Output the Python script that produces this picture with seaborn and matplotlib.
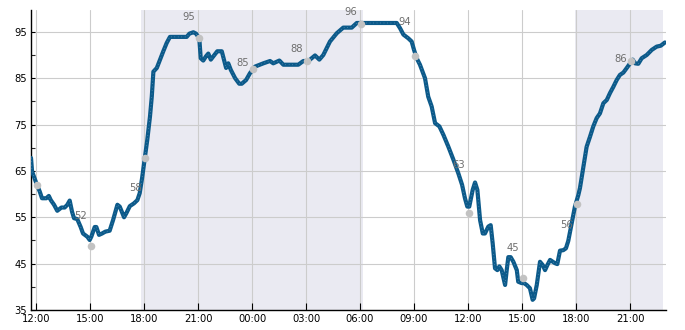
import numpy as np
import pandas as pd
import matplotlib
matplotlib.use("Agg")
import matplotlib.pyplot as plt
import matplotlib.dates as mdates
import seaborn as sns

# ---- data -------------------------------------------------------------
start = pd.Timestamp("2024-05-01 12:00")

hours = [-0.28, -0.22, 0.02, 0.21, 0.33, 0.57, 0.71, 0.82, 1.0, 1.18, 1.41, 1.59, 1.74, 1.87,
         2.0, 2.11, 2.29, 2.48, 2.61, 2.85, 2.98, 3.07, 3.26, 3.35, 3.5, 3.67, 3.85, 4.09,
         4.28, 4.52, 4.65, 4.89, 5.02, 5.21, 5.44, 5.63, 5.76, 5.89, 6.04, 6.18, 6.33, 6.43,
         6.52, 6.71, 6.89, 7.07, 7.26, 7.44, 8.37, 8.52, 8.74, 8.89, 9.07, 9.15, 9.29, 9.44,
         9.57, 9.71, 9.85, 10.07, 10.32, 10.44, 10.56, 10.68, 10.82, 11.06, 11.29, 11.43,
         11.67, 11.89, 12.07, 12.17, 12.63, 13.0, 13.18, 13.52, 13.74, 14.57, 14.85, 15.13,
         15.5, 15.74, 15.96, 16.33, 16.71, 17.07, 17.54, 17.82, 20.04, 20.22, 20.41, 20.68,
         20.87, 21.0, 21.15, 21.33, 21.61, 21.79, 21.98, 22.17, 22.41, 22.63, 22.91, 23.18,
         23.46, 23.67, 23.83, 23.96, 24.07, 24.26, 24.39, 24.52, 24.67, 24.82, 24.94, 25.13,
         25.26, 25.37, 25.5, 25.63, 25.74, 25.87, 26.06, 26.15, 26.24, 26.37, 26.52, 26.71,
         26.79, 26.98, 27.11, 27.26, 27.44, 27.59, 27.67, 27.82, 28.0, 28.15, 28.28, 28.41,
         28.56, 28.71, 28.83, 28.96, 29.11, 29.29, 29.44, 29.57, 29.76, 29.94, 30.13, 30.22,
         30.41, 30.59, 30.78, 30.96, 31.15, 31.33, 31.52, 31.71, 31.89, 32.07, 32.26, 32.44,
         32.63, 32.82, 33.0, 33.15, 33.28, 33.46, 33.65, 33.93, 34.21, 34.48, 34.71, 34.94]

humidity = [67.8, 64.9, 62.3, 60.5, 59.1, 59.1, 59.6, 58.7, 57.7, 56.4, 57.1, 57.1, 57.7, 58.6,
            56.2, 54.8, 54.6, 52.9, 51.5, 50.8, 50.1, 50.8, 52.9, 52.9, 51.2, 51.5, 51.9, 52.1,
            54.4, 57.7, 57.3, 55.0, 55.9, 57.4, 58.0, 58.7, 60.2, 63.4, 67.7, 71.7, 76.7, 81.0,
            86.4, 87.2, 89.0, 90.8, 92.6, 93.9, 93.9, 94.6, 94.9, 94.6, 93.6, 89.3, 88.8, 89.7,
            90.3, 89.0, 89.7, 90.8, 90.8, 89.0, 87.2, 88.2, 86.8, 85.0, 83.8, 83.8,
            84.6, 86.1, 86.9, 87.5, 88.2, 88.7, 88.2, 88.8, 87.9, 87.9, 88.7, 88.7,
            89.9, 89.0, 90.0, 92.9, 94.7, 95.9, 95.9, 96.9, 96.9, 95.8, 94.4, 93.6,
            92.9, 91.1, 89.3, 87.9, 85.0, 81.0, 78.9, 75.3, 74.6, 72.8, 70.2, 67.5,
            64.5, 62.0, 59.1, 57.3, 57.3, 60.9, 62.5, 60.9, 54.4, 51.5, 51.5, 53.0,
            53.3, 49.4, 44.0, 43.6, 44.4, 43.6, 40.4, 43.6, 46.4, 46.4, 45.4, 43.6,
            41.1, 40.8, 40.8, 40.4, 39.7, 37.2, 37.5, 40.4, 45.4, 44.7, 43.6, 44.7,
            45.8, 45.4, 45.1, 44.9, 47.8, 47.9, 48.3, 49.9, 53.7, 57.3, 59.8, 61.3,
            65.9, 70.2, 72.4, 74.6, 76.4, 77.4, 79.6, 80.3, 81.8, 83.1, 84.6, 85.7,
            86.2, 87.2, 88.2, 89.0, 88.2, 88.1, 89.3, 90.0, 91.1, 91.8, 92.0, 92.7]

# gray point markers (every 3 h)
marker_hours = [0.07, 3.05, 6.07, 9.07, 12.07, 15.07, 18.07, 21.07, 24.07, 27.07, 30.07, 33.07]
marker_values = [61.9, 48.9, 67.7, 93.6, 86.9, 88.7, 96.7, 89.8, 55.9, 41.8, 57.8, 88.6]

# text labels
label_hours = [2.5, 5.5, 8.5, 11.5, 14.5, 17.5, 20.5, 23.5, 26.5, 29.5, 32.5]
label_values = [55.3, 61.3, 98.2, 88.3, 91.3, 99.3, 97.2, 66.3, 48.4, 53.3, 89.2]
label_texts = ["52", "58", "95", "85", "88", "96", "94", "63", "45", "56", "86"]

# night shading (hours from start)
night_spans = [(5.83, 18.15), (29.96, 34.82)]

x_range = (-0.28, 35.0)
y_range = (35, 99.7)
y_major = [35, 45, 55, 65, 75, 85, 95]

# ---- plotting -------------------------------------------------------
sns.set_style("white")
plt.rcParams['font.family'] = ['DejaVu Sans']

def T(h):
    return start + pd.to_timedelta(np.asarray(h, dtype=float), unit="h")

df = pd.DataFrame({"time": T(hours), "humidity": humidity})

fig = plt.figure(figsize=(6.85, 3.3), dpi=100)
ax = fig.add_axes([31 / 685, 20 / 330, 635 / 685, 300 / 330])

for a, b in night_spans:
    ax.axvspan(T([a])[0], T([b])[0], color="#eaeaf2", zorder=0, lw=0)

sns.lineplot(data=df, x="time", y="humidity", ax=ax, color="#0c5a8a", lw=3.0,
             zorder=3, solid_joinstyle="round")
ax.plot(df["time"], df["humidity"], color="#6f9ec2", lw=0.5, ls=(0, (1, 4)), zorder=4)

ax.scatter(T(marker_hours), marker_values, s=30, color="#c2c2c2", zorder=5, lw=0)

for h, v, t in zip(label_hours, label_values, label_texts):
    ax.text(T([h])[0], v, t, ha="center", va="center", fontsize=7.2, color="#6e6e6e", zorder=6)

ax.set_xlim(T([x_range[0]])[0], T([x_range[1]])[0])
ax.set_ylim(*y_range)
ax.set_yticks(y_major)
ax.yaxis.set_minor_locator(matplotlib.ticker.MultipleLocator(5))
ax.xaxis.set_major_locator(mdates.HourLocator(byhour=[0, 3, 6, 9, 12, 15, 18, 21]))
ax.xaxis.set_major_formatter(mdates.DateFormatter("%H:%M"))

ax.grid(True, which="major", color="#cccccc", lw=0.8)
ax.set_axisbelow(True)
ax.set_xlabel("")
ax.set_ylabel("")
for s in ["top", "right"]:
    ax.spines[s].set_visible(False)
for s in ["left", "bottom"]:
    ax.spines[s].set_color("black")
    ax.spines[s].set_linewidth(1.0)
ax.tick_params(axis="both", which="major", direction="in", length=5, width=0.8,
               labelsize=7.2, colors="black", pad=3, left=True, bottom=True)
ax.tick_params(axis="y", which="minor", direction="in", length=3, width=0.8, left=True)
ax.tick_params(axis="y", which="major", length=3)

fig.savefig("out.png", dpi=100)
